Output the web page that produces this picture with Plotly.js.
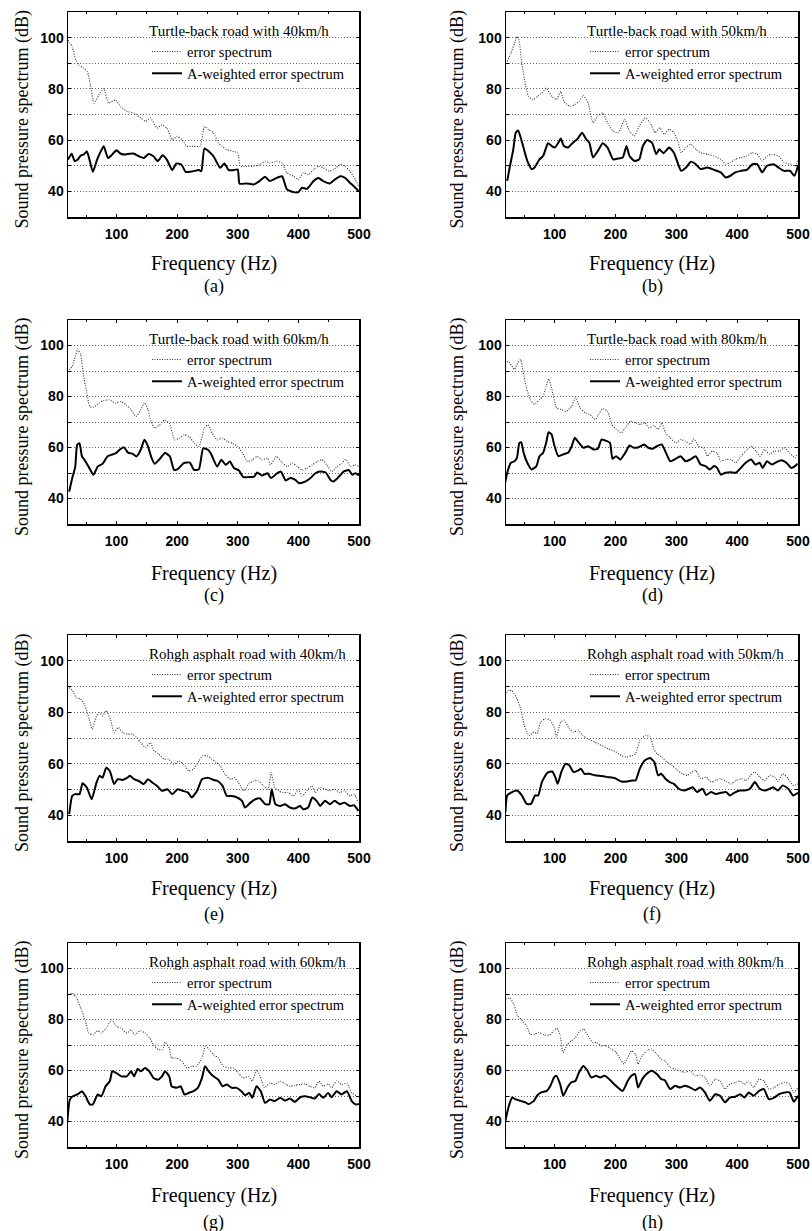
<!DOCTYPE html>
<html>
<head>
<meta charset="utf-8">
<script src="https://cdn.plot.ly/plotly-3.0.1.min.js"></script>
<style>html,body{margin:0;padding:0;background:#fff;}#chart{width:812px;height:1231px;}</style>
</head>
<body>
<div id="chart"></div>
<script>
// ---------- data ----------
const panelLetters = ["(a)","(b)","(c)","(d)","(e)","(f)","(g)","(h)"];
const panelTitles = [
  "Turtle-back road with 40km/h","Turtle-back road with 50km/h",
  "Turtle-back road with 60km/h","Turtle-back road with 80km/h",
  "Rohgh asphalt road with 40km/h","Rohgh asphalt road with 50km/h",
  "Rohgh asphalt road with 60km/h","Rohgh asphalt road with 80km/h"];
const seriesNames = ["error spectrum","A-weighted error spectrum"];
const xTickVals = [100,200,300,400,500];
const yTickVals = [40,50,60,70,80,90,100];
const yTickText = ["40","","60","","80","","100"];
const xAxisTitle = "Frequency (Hz)";
const yAxisTitle = "Sound pressure spectrum (dB)";

// (a)
const freqErrA=[20,27,33,38,46,52,57,63,71,79,87,98,107,118,129,140,148,156,167,175,183,192,200,208,216,227,238,245,252,260,268,274,282,293,300,304,315,326,337,345,353,364,373,381,392,400,408,417,425,433,441,450,458,469,477,485,494,499];
const errA=[99,96.4,91.2,89.3,88,86.7,81.5,74.4,77.6,80.2,74.4,75.7,73,71.2,70.5,68.6,67.3,68.6,64.7,66,64.7,60.2,61.5,60.2,57.6,57.6,57.6,65.3,64,62.8,58.9,57.6,56.3,55.6,55,49.8,49.8,49.8,50.5,51.8,51.1,51.8,51.1,47.2,45.9,44.6,47.2,46.6,48.5,49.8,49.2,47.9,48.5,50.5,49.8,47.9,44.6,42];
const freqAwA=[20,26,31,36,41,46,51,54,61,68,74,79,86,93,100,107,115,122,129,137,145,153,161,168,176,183,192,199,207,214,225,236,240,245,255,260,271,278,285,293,300,303,315,326,336,345,353,362,373,381,392,400,406,414,425,433,441,452,460,469,477,485,494,499];
const awA=[52.4,54.7,51.8,52.4,54,54.4,55.6,53.7,47.6,52.4,55.6,57.6,53,54.4,56,54.7,54.4,54.7,54.7,53.7,53,54.6,53.7,51.8,54.1,52.4,48.3,50.9,50.5,47.6,47.8,48.3,47.9,56.7,55,53.7,49.2,50.9,48.3,48.3,48.5,43,43.1,42.7,44,45.7,44,45,45.9,40.8,39.7,39.7,41.4,41,44,45.2,44,43.1,44.6,45.9,45.3,43.4,41.4,40.1];

// (b)
const freqErrB=[22,28,34,38,41,46,52,57,64,72,79,86,95,103,110,115,125,133,141,147,155,163,171,179,187,196,205,215,223,231,239,249,257,265,273,280,288,296,303,308,316,324,332,340,351,362,373,381,389,397,406,416,425,433,441,449,457,468,477,487,496,500];
const errB=[90.7,93.9,97.8,100.4,99.4,90,81.6,77.1,75.8,77.1,78.4,80.3,77.1,75.8,79,75.2,73.2,73.9,75.2,77.5,74.5,66.8,69.4,70.6,66.8,63.5,62.9,68.1,63.5,61.6,65.5,68.7,66.8,62.9,64.8,62.2,64.2,62.9,59,55.1,57.1,58.4,56.4,55.1,54.5,53.8,52.5,50.6,51.3,52.5,53.2,53.8,55.1,54.5,51.9,53.8,54.5,53.8,51.3,50.6,50,52.5];
const freqAwB=[22,26,32,36,40,45,51,56,62,67,75,81,86,89,95,100,106,110,115,122,130,138,145,152,157,163,171,179,187,196,204,212,218,223,231,239,245,252,260,267,272,279,288,296,303,308,316,324,332,340,351,362,373,381,389,397,406,416,425,433,441,449,460,468,477,487,494,500];
const awB=[44.1,49.3,56.4,62.9,63.8,60.3,55.1,51.3,48.7,49.3,52.5,53.8,57.1,58.8,57.7,57.1,59,60.6,57.7,57.1,59,60.6,62.9,60.3,59,53.2,55.8,58.8,57.1,52.5,52.8,53.2,57.7,53.8,51.9,52.5,57.7,60,59,54.5,56.4,54.9,57.1,55.1,50.6,48,49.3,51.6,50.6,48.7,49.3,48.4,47.4,45.4,46.1,47.4,48,48.4,50.6,50.6,47.4,50,50.6,49.3,48,48,46.1,50];

// (c)
const freqErrC=[22,27,32,36,41,45,51,56,63,71,79,88,99,107,116,124,132,140,146,152,157,163,171,179,187,196,204,212,220,228,236,245,251,258,266,274,283,291,300,308,316,324,332,340,349,354,364,374,382,390,398,406,414,423,431,439,447,455,464,472,478,486,494,500];
const errC=[90.5,91.8,95.7,98.6,96.3,89.2,81.3,76.1,75.8,77.4,78.4,78.7,77.4,78,76.7,74.8,72.2,74.8,77.6,74.8,70.2,67.6,68.9,70.8,69.5,63,63.7,65,64.3,61.7,60.4,67.6,68.9,65.6,63,63.7,62.4,61.7,60.4,57.8,54.5,55.2,56.5,55.2,55.8,53.2,56.5,53.9,52.5,53.9,52.5,51.2,51.9,53.2,54.5,55.2,53.2,50.6,52.5,53.9,55.4,52.5,53.2,52.5];
const freqAwC=[22,27,32,35,39,43,47,54,62,69,77,85,91,99,105,112,119,127,133,140,146,152,158,163,171,180,188,195,201,211,221,228,236,243,251,256,266,273,280,287,294,302,309,319,327,332,340,349,355,365,371,379,387,395,401,412,420,428,436,445,453,458,467,475,483,489,494,500];
const awC=[42.7,48,52.5,61,61.7,56.5,55.2,52.5,49.3,52.5,53.6,56.5,57.1,57.8,59.1,60.1,58,57.5,56.5,59.1,63,60.4,55.8,53.6,55.4,57.8,56.5,51.2,51.5,53.9,54.1,51.2,51.5,59.7,59.1,57.5,52.5,55.2,53.2,54.5,51.9,51,48.4,48.4,48.6,50.2,49,49.9,48,49.9,50.6,47.1,48,47.3,46,46.7,48,49.9,50.6,50.2,47.3,46.7,48.6,50.6,51.2,49.3,49.9,49];

// (d)
const freqErrD=[17,25,34,39,44,48,53,60,67,75,81,86,90,95,103,111,119,128,134,142,150,158,167,172,179,187,194,201,210,216,225,233,241,248,255,263,270,276,282,290,299,307,315,323,329,337,345,351,359,367,373,381,389,398,406,414,423,431,438,445,453,461,470,478,486,495,499];
const errD=[93.9,93.5,90.6,93.2,94.5,89.9,84,78.8,76.9,78.8,80.1,84,86.9,83.4,75.6,74.9,74.2,76.2,79.5,75.6,73.6,72.9,71,72.9,75.2,74.2,69,67.1,65.8,67.7,70.3,69.7,69,69.7,67.7,68.6,67.1,69.7,65.8,63.8,61.8,63.1,62.5,61.2,63.4,60.5,59.9,56.6,58.6,57.9,54.6,55.3,55.3,54,56.6,58.6,60.5,58.6,56.6,59.2,57.3,58.6,58.6,59.9,57.9,55.9,57.6];
const freqAwD=[17,22,28,34,38,42,45,49,55,62,70,75,81,86,90,95,99,106,114,122,128,133,140,147,155,164,171,177,186,191,195,201,208,216,223,230,238,247,254,261,268,276,283,290,299,307,315,323,332,340,348,355,362,367,373,381,389,398,406,414,423,430,437,442,449,457,464,473,481,489,495,499];
const awD=[44.2,50.1,54,54.6,55.9,61.8,62.1,57.9,54,51.4,52.7,56.6,57.9,61.8,66,65.1,61.2,56.6,57.3,57.9,60.5,63.8,61.8,59.9,60.5,59.2,59.5,63.1,62.5,61.8,55.6,56.6,55.3,57.9,60.8,59.9,60.1,61.2,59.9,59.5,60.5,61.2,57.9,54.6,55.6,56.6,54.6,55.3,56.6,53.3,52.7,51.4,52.7,52,49.4,50.1,50.3,50.1,52,54,55.3,53.3,54,52,54.6,53.3,54.2,55,54,52,52.7,53.7];

// (e)
const freqErrE=[22,28,33,41,48,55,60,67,72,77,83,90,96,103,110,118,126,133,140,148,156,162,170,178,186,194,203,211,219,227,236,242,249,257,264,271,279,288,295,301,310,318,326,334,343,350,355,361,367,375,383,392,400,406,414,422,428,435,444,452,460,468,476,485,492,499];
const errE=[89.6,88.3,85.7,85.1,82.5,77.3,73.4,78.6,79.9,78.6,80.6,77.3,72.1,74.1,72.1,71.5,71.5,70.2,68.2,66.3,68.2,65,63.7,61.8,61.8,59.8,61.1,59.8,57.2,57.9,61.1,63.1,63.1,61.8,60.7,59.2,55.9,54,54.6,52.7,49.5,52.1,53.3,53.3,51.4,50.1,56.6,50.8,49.5,48.8,48.8,47.5,50.1,47.5,49.5,51.4,48.8,50.8,50.1,49.5,50.1,48.8,49.5,47.5,48.2,44.9];
const freqAwE=[22,27,32,39,44,51,59,67,72,77,83,89,96,102,110,118,122,129,137,145,152,159,167,175,184,192,201,209,218,224,233,241,251,260,267,275,282,290,299,307,312,321,329,337,345,352,356,362,370,378,386,394,403,408,416,423,430,436,444,452,460,468,476,485,492,499];
const awE=[40.4,47.5,48.2,48.2,52.4,50.8,46.2,52.7,55.3,54.6,58.5,57.2,52.1,54,53.7,54.6,55.3,54,53.3,52.1,54,52.7,51.4,49.5,50.1,48.2,50.1,49.5,48.8,46.9,49.5,54,54.6,53.7,53.3,51.4,47.5,47.5,46.9,45.6,43,44.9,46.2,46.5,44.3,44.3,50.1,44.3,43.6,44.3,43,42.6,43.6,42.3,43,46.9,45.6,43.6,45.6,44.3,45.6,44.3,44.9,43.6,43.9,41.7];

// (f)
const freqErrF=[19,24,30,38,44,50,58,66,71,77,85,93,100,103,110,116,124,131,139,146,154,166,177,188,199,210,218,227,233,240,249,257,263,268,276,285,293,302,310,318,326,332,340,349,357,365,373,382,390,398,407,415,422,429,437,445,454,462,467,475,484,492,500];
const errF=[86.6,88.6,88.2,85.3,81.4,74.9,71,72.3,71.7,76.2,77.5,76.9,73.6,70.4,76.2,76.9,73.6,72.3,73,71,69.7,68.4,67.1,65.8,64.8,63.2,62.6,63.2,63.9,69.1,71,70.4,65.8,63.9,62.6,60.6,59.4,57.4,56.1,55.5,56.8,57.4,54.2,54.8,52.9,53.5,54.2,53.1,52.2,53.5,54.2,53.5,55.5,56.8,54.8,53.5,55.5,54.8,53.1,56.1,54.2,51.6,52.2];
const freqAwF=[19,22,30,38,46,54,61,68,73,79,88,96,101,105,111,118,124,131,139,143,149,157,166,177,188,199,210,218,227,233,240,248,257,264,270,275,282,289,296,304,313,321,327,334,343,349,357,365,373,382,388,395,404,412,421,429,437,445,454,459,467,475,484,492,500];
const awF=[41.2,47.7,49,49.6,47.7,44.4,44.4,47.7,47.7,52.9,56.5,57,54.8,52.2,56.8,60,59.4,56.8,57.4,58.1,56.1,56.1,55.5,55.2,54.8,54.4,53.1,53.1,53.5,53.5,58.1,61.3,62.2,60.6,55.5,56.1,54.2,52.9,52.2,50.3,49.6,50.3,50.9,49,50.3,47.9,49,48.3,48.7,49,47.7,48.7,49.6,49.6,50.3,52.9,50.3,49.6,50.3,50.9,49.6,51.6,50.3,47.7,48.7];

// (g)
const freqErrG=[20,27,34,41,49,54,61,69,75,83,92,100,108,117,124,130,139,147,155,161,169,176,180,187,191,199,208,216,224,232,241,247,253,260,268,276,285,293,301,309,318,324,331,337,344,353,361,370,378,386,394,403,411,419,427,434,441,449,455,463,471,480,488,497,500];
const errG=[89.7,90.3,88.4,84.5,79.3,74.7,74,75.6,74.7,76.6,79.9,77.3,76.6,74.7,76,74,75.6,74.7,72.7,70.1,68.2,68.2,71.2,68.8,64.9,64.9,63.6,61,61.7,61.7,64.9,69.5,68.2,66.2,64.9,61.7,61,61,59,57.1,57.7,55.8,60.3,57.7,53.2,55.1,54.5,55.8,54.7,53.8,54.2,54.5,54.7,53.8,53.2,55.8,53.8,54.7,53.2,56,54.5,55.1,51.2,49.9,49.5];
const freqAwG=[19,23,28,37,43,49,56,61,69,75,82,89,93,100,108,117,124,129,135,140,147,154,161,168,175,180,187,191,199,206,212,219,227,234,241,246,252,260,268,275,282,290,298,306,312,319,324,331,338,345,353,361,370,378,386,394,403,411,419,427,434,441,449,455,463,471,480,488,495,500];
const awG=[40.1,48.6,49.9,50.8,51.9,49.9,46.7,46.7,50.6,49.9,53.8,55.8,59.7,59,57.7,57.7,59.7,57.7,60.7,59.7,61,59.7,57.1,56.4,57.7,59.7,57.7,53.8,53.2,53.8,50.6,51.2,51.9,53.2,57.1,61.7,59.7,57.7,56.4,53.8,54.5,53.2,53.2,51.9,50.3,51.2,49.3,53.8,51.9,47.3,48.6,48,49.3,48.2,49,47.7,49.5,49.9,49.5,49,50.8,49.3,51.2,49.5,51.9,50.6,51.9,48,46.7,46.9];

// (h)
const freqErrH=[19,26,33,39,47,54,60,67,74,83,91,99,104,109,114,121,127,134,142,148,155,162,169,176,184,193,201,208,214,220,226,233,237,244,251,259,268,275,281,290,298,306,314,323,331,339,347,355,364,372,380,388,397,405,412,419,427,436,444,452,461,469,478,486,493,500];
const errH=[88,88.4,86,81.4,79.5,77.5,74.2,74.2,74.9,73.9,73.9,75.6,76.6,73.6,67.1,70.3,71.6,72.9,75.6,76.2,73.6,71,71,69.7,69.7,68.4,67.1,64.4,62.5,65.1,67.7,66.4,62.5,65.8,67.7,68.4,66.4,64.4,63.8,61.2,60.5,59.9,59.2,59.9,57.9,58.3,57.3,54,56.6,55.9,52.7,54.6,55.3,55.9,54.6,55.9,53.3,56.6,55.9,52.7,53.3,54.6,55.3,54.6,51.4,53.3];
const freqAwH=[19,24,30,35,44,52,57,66,71,78,87,93,99,103,109,114,121,127,134,140,147,154,160,168,175,182,188,195,204,212,220,226,232,237,244,251,259,268,275,281,290,298,306,314,323,331,339,347,355,364,372,380,388,397,405,412,419,427,436,444,452,461,469,478,486,493,500];
const awH=[40.3,45.5,49.4,48.8,48.1,47.5,46.8,48.1,50.1,51.4,52,54,57.3,57.9,54.6,50.1,53.3,55.3,55.9,59.2,61.8,59.9,57.3,57.9,57.3,57.9,57,55.3,53.3,52,55.9,57.9,58.6,53.3,56.6,58.6,59.9,58.6,56.6,56.2,52.7,54,53.3,54,53.3,52.3,53.3,51.4,48.1,50.7,50.1,47.5,49.4,49.7,50.7,49.4,51.4,50.1,52,52.7,48.8,49.4,50.7,51.4,51.4,47.8,50.1];

// ---------- layout constants ----------
const W = 812, H = 1231;
const colPx = [[68,359],[506,798]];
const rowPx = [[12,217],[320,524],[635,841],[943,1147]];
const xTitlePx = [263,573,888,1195];
const letterPx = [286,595,914,1222];
const yTitleOffset = [46,49];

const panelData = [
  [freqErrA,errA,freqAwA,awA],[freqErrB,errB,freqAwB,awB],
  [freqErrC,errC,freqAwC,awC],[freqErrD,errD,freqAwD,awD],
  [freqErrE,errE,freqAwE,awE],[freqErrF,errF,freqAwF,awF],
  [freqErrG,errG,freqAwG,awG],[freqErrH,errH,freqAwH,awH]];

const serif = "Liberation Serif, Times New Roman, serif";
const sans = "Liberation Sans, Arial, sans-serif";

const traces = [];
const layout = {
  width: W, height: H,
  margin: {l:0, r:0, t:0, b:0},
  paper_bgcolor: "#fff", plot_bgcolor: "#fff",
  annotations: [], showlegend: true
};

for (let i = 0; i < 8; i++) {
  const r = Math.floor(i/2), c = i % 2;
  const sfx = i === 0 ? "" : String(i+1);
  const legKey = "legend" + sfx;
  const [fe, e, fa, a] = panelData[i];
  traces.push({
    x: fe, y: e, type: "scatter", mode: "lines", name: seriesNames[0],
    xaxis: "x"+sfx, yaxis: "y"+sfx, legend: legKey,
    line: {color: "#333", width: 1.1, dash: "1px,1.5px", shape: "spline", smoothing: 0.5},
    hoverinfo: "skip"
  });
  traces.push({
    x: fa, y: a, type: "scatter", mode: "lines", name: seriesNames[1],
    xaxis: "x"+sfx, yaxis: "y"+sfx, legend: legKey,
    line: {color: "#000", width: 2, shape: "spline", smoothing: 0.5},
    hoverinfo: "skip"
  });
  const xd = [colPx[c][0]/W, colPx[c][1]/W];
  const yd = [1 - rowPx[r][1]/H, 1 - rowPx[r][0]/H];
  layout["xaxis"+sfx] = {
    domain: xd, anchor: "y"+sfx, range: [20,500],
    tickvals: xTickVals, ticks: "inside", ticklen: 3, tickcolor: "#000",
    showline: true, linecolor: "#000", linewidth: 1.5, mirror: "ticks",
    showgrid: false, zeroline: false, ticklabelstandoff: 4,
    minor: {dtick: 50, tick0: 0, ticks: "inside", ticklen: 2, tickcolor: "#000", showgrid: false},
    tickfont: {family: sans, size: 14, color: "#000", weight: "bold"}
  };
  layout["yaxis"+sfx] = {
    domain: yd, anchor: "x"+sfx, range: [30,110],
    tickvals: yTickVals, ticktext: yTickText, ticks: "inside", ticklen: 3, tickcolor: "#000",
    showline: true, linecolor: "#000", linewidth: 1.5, mirror: "ticks",
    showgrid: true, gridcolor: "#666", griddash: "1px,2px", gridwidth: 1, zeroline: false,
    tickfont: {family: sans, size: 14, color: "#000", weight: "bold"}
  };
  layout[legKey] = {
    x: (colPx[c][0] + 79)/W, y: 1 - (rowPx[r][0] + 4)/H,
    xanchor: "left", yanchor: "top", bgcolor: "rgba(0,0,0,0)", borderwidth: 0,
    font: {family: serif, size: 14.5, color: "#000"},
    title: {text: panelTitles[i], side: "top", font: {family: serif, size: 15, color: "#000"}},
    tracegroupgap: 0
  };
  const cx = (colPx[c][0] + colPx[c][1]) / 2 / W;
  layout.annotations.push({
    xref: "paper", yref: "paper", x: cx, y: 1 - xTitlePx[r]/H,
    xanchor: "center", yanchor: "middle", showarrow: false, text: xAxisTitle,
    font: {family: serif, size: 20, color: "#000"}
  });
  layout.annotations.push({
    xref: "paper", yref: "paper", x: cx, y: 1 - letterPx[r]/H,
    xanchor: "center", yanchor: "middle", showarrow: false, text: panelLetters[i],
    font: {family: serif, size: 18, color: "#000"}
  });
  layout.annotations.push({
    xref: "paper", yref: "paper", x: (colPx[c][0] - yTitleOffset[c])/W,
    y: 1 - ((rowPx[r][0] + rowPx[r][1])/2 + 5)/H,
    xanchor: "center", yanchor: "middle", showarrow: false, textangle: -90,
    text: yAxisTitle, font: {family: serif, size: 18, color: "#000"}
  });
}

Plotly.newPlot("chart", traces, layout, {displayModeBar: false, staticPlot: true});
</script>
</body>
</html>
